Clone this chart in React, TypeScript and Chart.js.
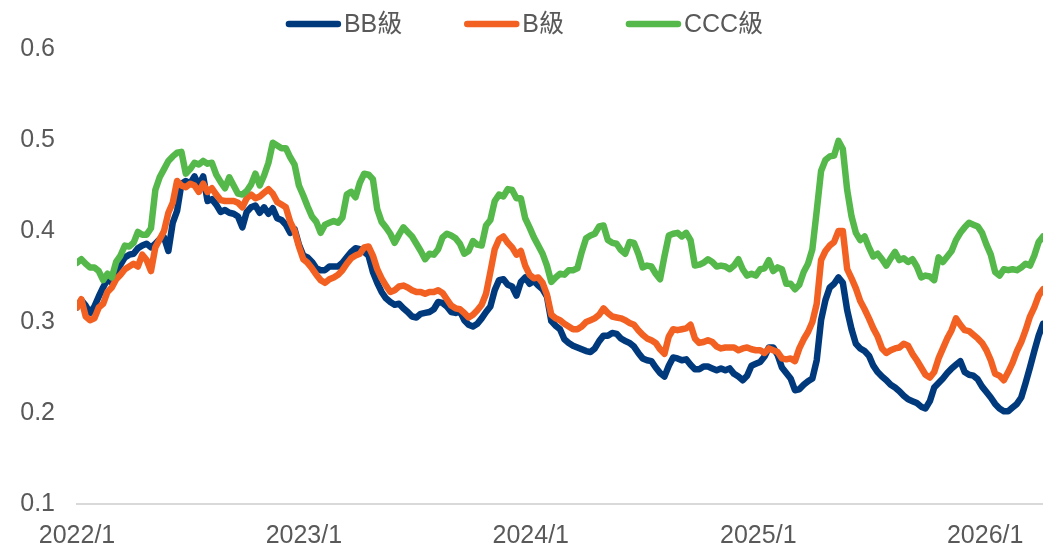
import React, { useEffect, useRef } from 'react';
import { Chart, registerables } from 'chart.js';

Chart.register(...registerables);

const FONT = "'Liberation Sans', Arial, 'Noto Sans CJK TC', sans-serif";
const TEXT_COLOR = '#595959';

// Weekly observations starting at this date (x = week number)
const startDate = '2022-01-01';
const yearLabels = ['2022/1', '2023/1', '2024/1', '2025/1', '2026/1'];
const seriesNames = ['BB級', 'B級', 'CCC級'];
const seriesColors = ['#003A7D', '#F26122', '#55B84A'];

const bbValues = [
  0.316, 0.324, 0.318, 0.310, 0.317, 0.328, 0.338, 0.347, 0.343, 0.355,
  0.363, 0.371, 0.374, 0.375, 0.381, 0.384, 0.386, 0.382, 0.386, 0.391,
  0.393, 0.378, 0.409, 0.422, 0.452, 0.455, 0.452, 0.460, 0.450, 0.460,
  0.433, 0.435, 0.429, 0.421, 0.423, 0.420, 0.419, 0.416, 0.404, 0.421,
  0.426, 0.428, 0.420, 0.426, 0.419, 0.425, 0.414, 0.412, 0.407, 0.398,
  0.402, 0.385, 0.373, 0.371, 0.366, 0.359, 0.357, 0.357, 0.361, 0.361,
  0.361, 0.365, 0.371, 0.377, 0.381, 0.380, 0.377, 0.373, 0.355, 0.343,
  0.333, 0.326, 0.322, 0.319, 0.320, 0.315, 0.311, 0.306, 0.305, 0.309,
  0.310, 0.311, 0.314, 0.322, 0.321, 0.317, 0.311, 0.310, 0.312, 0.302,
  0.297, 0.295, 0.298, 0.304, 0.311, 0.317, 0.335, 0.346, 0.347, 0.341,
  0.339, 0.329, 0.344, 0.349, 0.342, 0.345, 0.340, 0.336, 0.328, 0.301,
  0.296, 0.292, 0.281, 0.277, 0.274, 0.272, 0.270, 0.268, 0.267, 0.271,
  0.279, 0.285, 0.285, 0.288, 0.287, 0.282, 0.279, 0.277, 0.273, 0.266,
  0.260, 0.258, 0.257, 0.250, 0.244, 0.240, 0.252, 0.261, 0.260, 0.258,
  0.259, 0.253, 0.248, 0.248, 0.251, 0.251, 0.249, 0.247, 0.249, 0.247,
  0.249, 0.243, 0.240, 0.236, 0.241, 0.252, 0.254, 0.256, 0.262, 0.272,
  0.272, 0.264, 0.250, 0.244, 0.238, 0.225, 0.226, 0.231, 0.235, 0.238,
  0.258, 0.302, 0.324, 0.338, 0.342, 0.349, 0.343, 0.313, 0.292, 0.276,
  0.271, 0.268, 0.263, 0.252, 0.245, 0.240, 0.236, 0.231, 0.228, 0.224,
  0.219, 0.215, 0.213, 0.211, 0.207, 0.205, 0.213, 0.228, 0.233, 0.238,
  0.244, 0.249, 0.253, 0.257, 0.245, 0.242, 0.241, 0.237, 0.229, 0.223,
  0.217, 0.210, 0.205, 0.202, 0.202, 0.206, 0.210, 0.217, 0.233, 0.250,
  0.268, 0.285, 0.298,
];

const bValues = [
  0.316, 0.325, 0.306, 0.302, 0.304, 0.316, 0.320, 0.333, 0.338, 0.347,
  0.352, 0.358, 0.361, 0.364, 0.361, 0.374, 0.368, 0.356, 0.382, 0.391,
  0.400, 0.420, 0.431, 0.455, 0.450, 0.448, 0.452, 0.450, 0.443, 0.452,
  0.443, 0.447, 0.440, 0.434, 0.433, 0.433, 0.433, 0.431, 0.426, 0.436,
  0.440, 0.436, 0.438, 0.442, 0.446, 0.441, 0.432, 0.429, 0.426, 0.410,
  0.400, 0.383, 0.369, 0.365, 0.359, 0.352, 0.346, 0.343, 0.347, 0.349,
  0.352, 0.357, 0.364, 0.370, 0.373, 0.375, 0.382, 0.383, 0.373, 0.358,
  0.348, 0.340, 0.333, 0.335, 0.339, 0.340, 0.338, 0.335, 0.333, 0.333,
  0.331, 0.333, 0.333, 0.335, 0.332, 0.325, 0.318, 0.315, 0.314, 0.310,
  0.305, 0.308, 0.313, 0.319, 0.331, 0.355, 0.380, 0.391, 0.394, 0.387,
  0.382, 0.374, 0.378, 0.362, 0.352, 0.348, 0.349, 0.343, 0.330, 0.308,
  0.304, 0.302, 0.298, 0.295, 0.292, 0.292, 0.295, 0.300, 0.302, 0.304,
  0.308, 0.315, 0.310, 0.306, 0.305, 0.304, 0.302, 0.299, 0.297, 0.291,
  0.286, 0.282, 0.280, 0.277, 0.270, 0.265, 0.284, 0.292, 0.291, 0.292,
  0.293, 0.297, 0.282, 0.277, 0.278, 0.280, 0.278, 0.273, 0.271, 0.272,
  0.272, 0.272, 0.269, 0.271, 0.272, 0.270, 0.269, 0.269, 0.266, 0.271,
  0.269, 0.267, 0.260, 0.259, 0.260, 0.257, 0.271, 0.281, 0.289, 0.300,
  0.320, 0.368, 0.378, 0.384, 0.388, 0.400, 0.400, 0.358, 0.348, 0.337,
  0.323, 0.314, 0.304, 0.293, 0.284, 0.271, 0.266, 0.269, 0.271, 0.272,
  0.276, 0.274, 0.265, 0.258, 0.250, 0.242, 0.239, 0.245, 0.260, 0.271,
  0.282, 0.291, 0.304, 0.297, 0.291, 0.290, 0.286, 0.282, 0.277, 0.269,
  0.258, 0.243, 0.241, 0.236, 0.245, 0.255, 0.268, 0.278, 0.291, 0.306,
  0.316, 0.329, 0.336,
];

const cccValues = [
  0.365, 0.369, 0.364, 0.360, 0.360, 0.356, 0.346, 0.353, 0.349, 0.366,
  0.373, 0.384, 0.383, 0.387, 0.399, 0.396, 0.396, 0.403, 0.445, 0.459,
  0.468, 0.477, 0.482, 0.486, 0.487, 0.463, 0.468, 0.475, 0.473, 0.477,
  0.474, 0.475, 0.462, 0.454, 0.447, 0.459, 0.450, 0.441, 0.440, 0.444,
  0.451, 0.463, 0.450, 0.461, 0.475, 0.497, 0.494, 0.491, 0.491, 0.481,
  0.473, 0.450, 0.439, 0.427, 0.416, 0.410, 0.398, 0.407, 0.409, 0.411,
  0.409, 0.415, 0.440, 0.443, 0.437, 0.453, 0.463, 0.462, 0.457, 0.424,
  0.410, 0.404, 0.397, 0.387, 0.396, 0.404, 0.399, 0.394, 0.386, 0.378,
  0.369, 0.375, 0.374, 0.380, 0.393, 0.397, 0.395, 0.392, 0.386, 0.375,
  0.378, 0.389, 0.385, 0.384, 0.406, 0.412, 0.433, 0.440, 0.438, 0.446,
  0.445, 0.436, 0.436, 0.414, 0.404, 0.393, 0.384, 0.375, 0.362, 0.344,
  0.349, 0.353, 0.352, 0.357, 0.357, 0.359, 0.377, 0.392, 0.395, 0.397,
  0.405, 0.406, 0.390, 0.387, 0.386, 0.379, 0.375, 0.388, 0.387, 0.375,
  0.360, 0.362, 0.361, 0.353, 0.347, 0.372, 0.395, 0.397, 0.398, 0.394,
  0.398, 0.390, 0.362, 0.363, 0.365, 0.369, 0.366, 0.361, 0.362, 0.361,
  0.358, 0.362, 0.369, 0.358, 0.351, 0.353, 0.351, 0.358, 0.359, 0.368,
  0.356, 0.360, 0.358, 0.342, 0.342, 0.336, 0.341, 0.355, 0.364, 0.380,
  0.422, 0.466, 0.478, 0.482, 0.483, 0.499, 0.490, 0.445, 0.416, 0.398,
  0.390, 0.394, 0.382, 0.372, 0.375, 0.369, 0.362, 0.370, 0.377, 0.368,
  0.370, 0.366, 0.369, 0.361, 0.349, 0.351, 0.350, 0.346, 0.371, 0.366,
  0.372, 0.378, 0.390, 0.398, 0.404, 0.409, 0.407, 0.405, 0.398, 0.385,
  0.374, 0.355, 0.351, 0.358, 0.357, 0.358, 0.357, 0.360, 0.364, 0.362,
  0.373, 0.388, 0.394,
];

const seriesValues = [bbValues, bValues, cccValues];

const WEEK_MS = 7 * 24 * 3600 * 1000;
const weekOfLabel = (label: string) => {
  const [y, m] = label.split('/').map(Number);
  return (Date.UTC(y, m - 1, 1) - Date.parse(startDate)) / WEEK_MS;
};

const legendPlugin = {
  id: 'topLegend',
  afterDraw(chart: any) {
    const { ctx } = chart;
    const ds = chart.data.datasets;
    ctx.save();
    ctx.font = `25px ${FONT}`;
    const cap = 3;
    const lineLen = 49;
    const textGap = 3;
    const itemGap = 62;
    const widths = ds.map((d: any) => cap * 2 + lineLen + textGap + ctx.measureText(d.label).width);
    const total = widths.reduce((a: number, w: number) => a + w, 0) + itemGap * (ds.length - 1);
    let x = (chart.width - total) / 2 + 3;
    const y = 24;
    ds.forEach((d: any, i: number) => {
      ctx.beginPath();
      ctx.lineWidth = 6.5;
      ctx.lineCap = 'round';
      ctx.strokeStyle = d.borderColor;
      ctx.moveTo(x + cap, y);
      ctx.lineTo(x + cap + lineLen, y);
      ctx.stroke();
      ctx.fillStyle = TEXT_COLOR;
      ctx.textAlign = 'left';
      ctx.textBaseline = 'middle';
      ctx.fillText(d.label, x + cap * 2 + lineLen + textGap, y + 1);
      x += widths[i] + itemGap;
    });
    ctx.restore();
  },
};

export default function App() {
  const canvasRef = useRef<HTMLCanvasElement | null>(null);

  useEffect(() => {
    if (!canvasRef.current) return;
    const yearWeeks = yearLabels.map(weekOfLabel);
    const lastWeek = bbValues.length - 1;
    const chart = new Chart(canvasRef.current, {
      type: 'line',
      data: {
        datasets: seriesNames.map((name, s) => ({
          label: name,
          data: seriesValues[s].map((v, i) => ({ x: i, y: v })),
          borderColor: seriesColors[s],
          backgroundColor: seriesColors[s],
          borderWidth: 6.5,
          pointRadius: 0,
          pointHoverRadius: 0,
          tension: 0,
          borderJoinStyle: 'round',
          borderCapStyle: 'round',
          fill: false,
          order: 3 - s,
        })),
      },
      options: {
        responsive: false,
        animation: false,
        events: [],
        layout: { padding: { top: 49, left: 0, right: 0, bottom: 0 } },
        plugins: {
          legend: { display: false },
          tooltip: { enabled: false },
        },
        scales: {
          x: {
            type: 'linear',
            min: 0,
            max: lastWeek,
            grid: { display: false, drawTicks: false },
            border: { display: true, color: '#D9D9D9', width: 2 },
            afterBuildTicks: (scale: any) => {
              scale.ticks = yearWeeks.map((w) => ({ value: w }));
            },
            afterFit: (scale: any) => {
              scale.height = 45;
            },
            ticks: {
              autoSkip: false,
              maxRotation: 0,
              padding: 17,
              color: TEXT_COLOR,
              font: { family: FONT, size: 25 },
              callback: (value: any) => {
                const idx = yearWeeks.findIndex((w) => Math.abs(w - Number(value)) < 0.01);
                return idx >= 0 ? yearLabels[idx] : '';
              },
            },
          },
          y: {
            min: 0.1,
            max: 0.6,
            grid: { display: false, drawTicks: false },
            border: { display: false },
            afterFit: (scale: any) => {
              scale.width = 77;
            },
            ticks: {
              stepSize: 0.1,
              padding: 22,
              color: TEXT_COLOR,
              font: { family: FONT, size: 25 },
              callback: (value: any) => Number(value).toFixed(1),
            },
          },
        },
      },
      plugins: [legendPlugin],
    } as any);
    return () => chart.destroy();
  }, []);

  return (
    <div style={{ position: 'fixed', left: 0, top: 0, width: 1043, height: 549, background: '#fff' }}>
      <canvas ref={canvasRef} width={1043} height={549} style={{ display: 'block' }} />
    </div>
  );
}
